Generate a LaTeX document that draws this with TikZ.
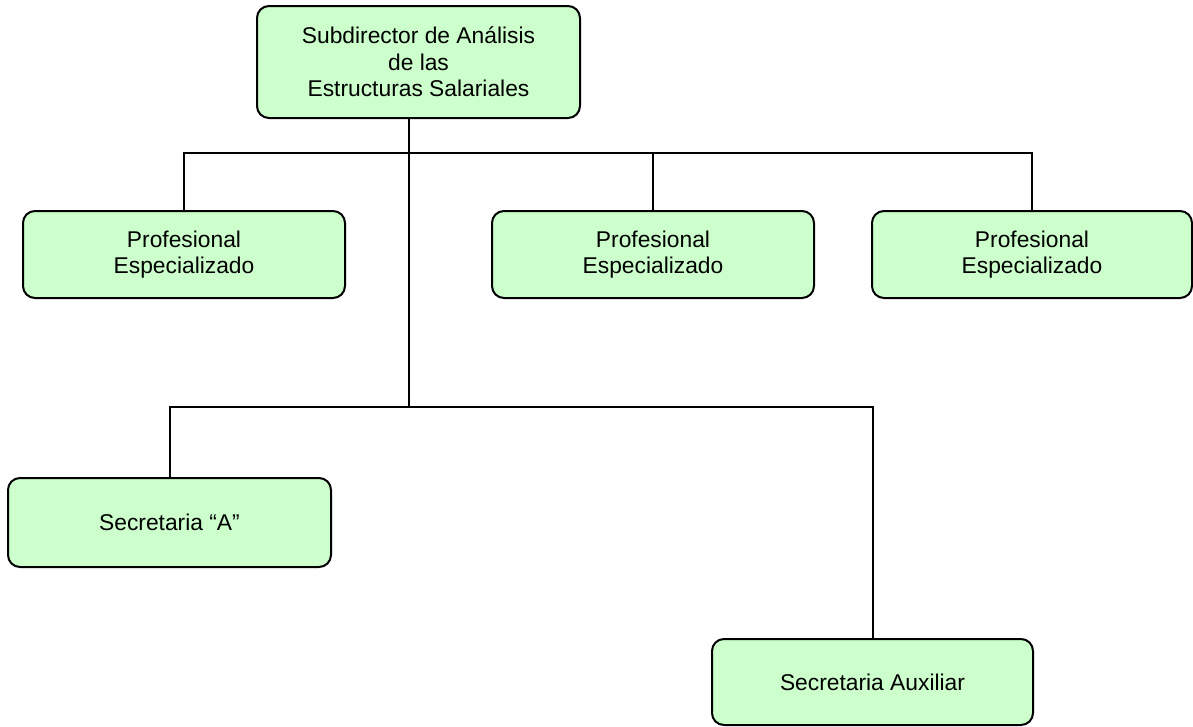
\documentclass[tikz,border=0pt]{standalone}
\usepackage{fontspec}
\setmainfont{Liberation Sans}
\definecolor{boxfill}{HTML}{CCFFCC}
\begin{document}
\begin{tikzpicture}[x=1pt,y=-1pt,
  orgbox/.style={draw=black,line width=2pt,fill=boxfill,rounded corners=12pt,
    align=center,inner sep=0pt,
    font=\fontsize{22.8pt}{26.5pt}\selectfont},
  link/.style={draw=black,line width=2pt}]
\useasboundingbox (0,0) rectangle (1193,726);

% boxes
\node[orgbox,minimum width=323pt,minimum height=112pt] (top) at (418.5,62)
  {Subdirector de Análisis\\de las\\Estructuras Salariales};
\node[orgbox,minimum width=322pt,minimum height=87pt] (p1) at (184,254.5)
  {Profesional\\Especializado};
\node[orgbox,minimum width=322pt,minimum height=87pt] (p2) at (653,254.5)
  {Profesional\\Especializado};
\node[orgbox,minimum width=320pt,minimum height=87pt] (p3) at (1032,254.5)
  {Profesional\\Especializado};
\node[orgbox,minimum width=323pt,minimum height=89pt] (s1) at (169.5,522.5)
  {Secretaria “A”};
\node[orgbox,minimum width=321pt,minimum height=86pt] (s2) at (872.5,682)
  {Secretaria Auxiliar};

% junction points on the main vertical line
\coordinate (j1) at (409,153);
\coordinate (j2) at (409,407);

% connectors
\draw[link] (top.south -| j1) -- (j2);
\draw[link] (p1.north) |- (p3.north |- j1) -- (p3.north);
\draw[link] (p2.north |- j1) -- (p2.north);
\draw[link] (s1.north) |- (s2.north |- j2) -- (s2.north);
\end{tikzpicture}
\end{document}
